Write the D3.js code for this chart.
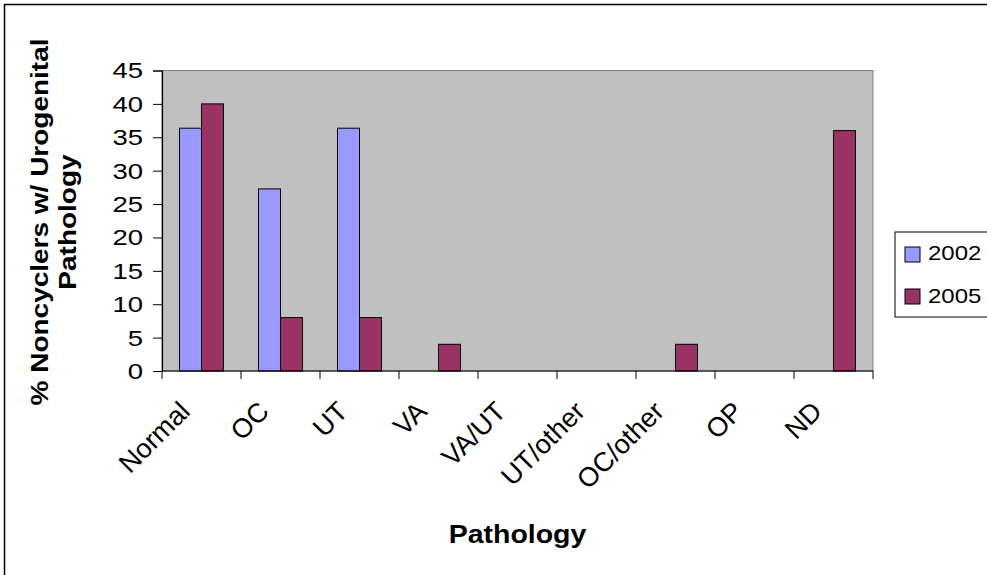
<!DOCTYPE html>
<meta charset="utf-8">
<style>
  body { margin: 0; background: #fff; }
  text { font-family: "Liberation Sans", Arial, sans-serif; }
</style>
<body>
<script src="https://cdn.jsdelivr.net/npm/d3@7"></script>
<script>
// chart values
var categories = ["Normal", "OC", "UT", "VA", "VA/UT", "UT/other", "OC/other", "OP", "ND"];
var years = ["2002", "2005"];
var values2002 = [36.36, 27.27, 36.36, 0, 0, 0, 0, 0, 0];
var values2005 = [40, 8, 8, 4, 0, 0, 4, 0, 36];
var yTicks = [0, 5, 10, 15, 20, 25, 30, 35, 40, 45];
var colors = ["#9999FF", "#993366"];

var W = 987, H = 575;
var plot = {left: 162, top: 70.5, right: 873, bottom: 371};

var svg = d3.select("body").append("svg")
    .attr("width", W).attr("height", H);

// outer chart border (right and bottom are cropped off)
svg.append("rect")
    .attr("x", 4.5).attr("y", 4.5)
    .attr("width", W + 10).attr("height", H + 10)
    .attr("fill", "white").attr("stroke", "black").attr("stroke-width", 1.5);

var x = d3.scaleBand().domain(categories).range([plot.left, plot.right]);
var xs = d3.scaleBand().domain(years).range([0, 44]);
var y = d3.scaleLinear().domain([0, 45]).range([plot.bottom, plot.top]);

// plot area
svg.append("rect")
    .attr("x", plot.left).attr("y", plot.top)
    .attr("width", plot.right - plot.left).attr("height", plot.bottom - plot.top)
    .attr("fill", "#C0C0C0").attr("stroke", "#808080").attr("stroke-width", 1);

// bars
var series = [values2002, values2005];
series.forEach(function (vals, s) {
    svg.append("g").selectAll("rect")
        .data(vals.map(function (v, i) { return {cat: categories[i], v: v}; })
            .filter(function (d) { return d.v > 0; }))
        .enter().append("rect")
        .attr("x", function (d) { return x(d.cat) + (x.bandwidth() - 44) / 2 + xs(years[s]); })
        .attr("width", xs.bandwidth())
        .attr("y", function (d) { return y(d.v); })
        .attr("height", function (d) { return y(0) - y(d.v); })
        .attr("fill", colors[s])
        .attr("stroke", "black").attr("stroke-width", 1);
});

// y axis (labels drawn separately so they can be widened like the original)
var yAxis = svg.append("g")
    .attr("transform", "translate(" + plot.left + ",0)")
    .call(d3.axisLeft(y).tickValues(yTicks).tickSize(9).tickFormat(""));
yAxis.select(".domain").attr("stroke", "black").attr("stroke-width", 1.2);
yAxis.selectAll("line").attr("stroke", "black");

svg.append("g").selectAll("text")
    .data(yTicks).enter().append("text")
    .attr("transform", function (d) { return "translate(143," + y(d) + ") scale(1.25,1)"; })
    .attr("text-anchor", "end")
    .attr("dy", "0.36em")
    .attr("font-size", "22px")
    .text(function (d) { return d; });

// x axis: ticks on band boundaries
var xAxis = svg.append("g")
    .attr("transform", "translate(0," + plot.bottom + ")");
xAxis.append("line")
    .attr("x1", plot.left).attr("x2", plot.right)
    .attr("stroke", "black").attr("stroke-width", 1.2);
var bounds = categories.map(function (c) { return x(c); }).concat([plot.right]);
xAxis.selectAll(".tk").data(bounds).enter().append("line")
    .attr("x1", function (d) { return d; }).attr("x2", function (d) { return d; })
    .attr("y1", 0).attr("y2", 8)
    .attr("stroke", "black");

xAxis.selectAll(".lbl").data(categories).enter().append("text")
    .attr("transform", function (d) {
        return "translate(" + (x(d) + x.bandwidth() / 2 - 10) + ",42) rotate(-45)";
    })
    .attr("text-anchor", "end")
    .attr("font-size", "27px")
    .text(function (d) { return d; });

// axis titles
svg.append("text")
    .attr("transform", "translate(" + ((plot.left + plot.right) / 2) + ",543) scale(1.14,1)")
    .attr("text-anchor", "middle")
    .attr("font-size", "25px").attr("font-weight", "bold")
    .text("Pathology");

var yt = svg.append("text")
    .attr("transform", "translate(48,222) rotate(-90) scale(1,0.85)")
    .attr("text-anchor", "middle")
    .attr("font-size", "28px").attr("font-weight", "bold");
yt.append("tspan").attr("x", 0).attr("dy", 0).text("% Noncyclers w/ Urogenital");
yt.append("tspan").attr("x", 0).attr("dy", 33).text("Pathology");

// legend
var lg = svg.append("g").attr("transform", "translate(895,232)");
lg.append("rect")
    .attr("x", 0).attr("y", 0).attr("width", 120).attr("height", 85)
    .attr("fill", "white").attr("stroke", "black").attr("stroke-width", 1);
years.forEach(function (yr, i) {
    lg.append("rect")
        .attr("x", 10).attr("y", 15 + i * 42).attr("width", 15).attr("height", 15)
        .attr("fill", colors[i]).attr("stroke", "black").attr("stroke-width", 1);
    lg.append("text")
        .attr("transform", "translate(33," + (28 + i * 43) + ") scale(1.2,1)")
        .attr("font-size", "20px")
        .text(yr);
});
</script>
</body>
